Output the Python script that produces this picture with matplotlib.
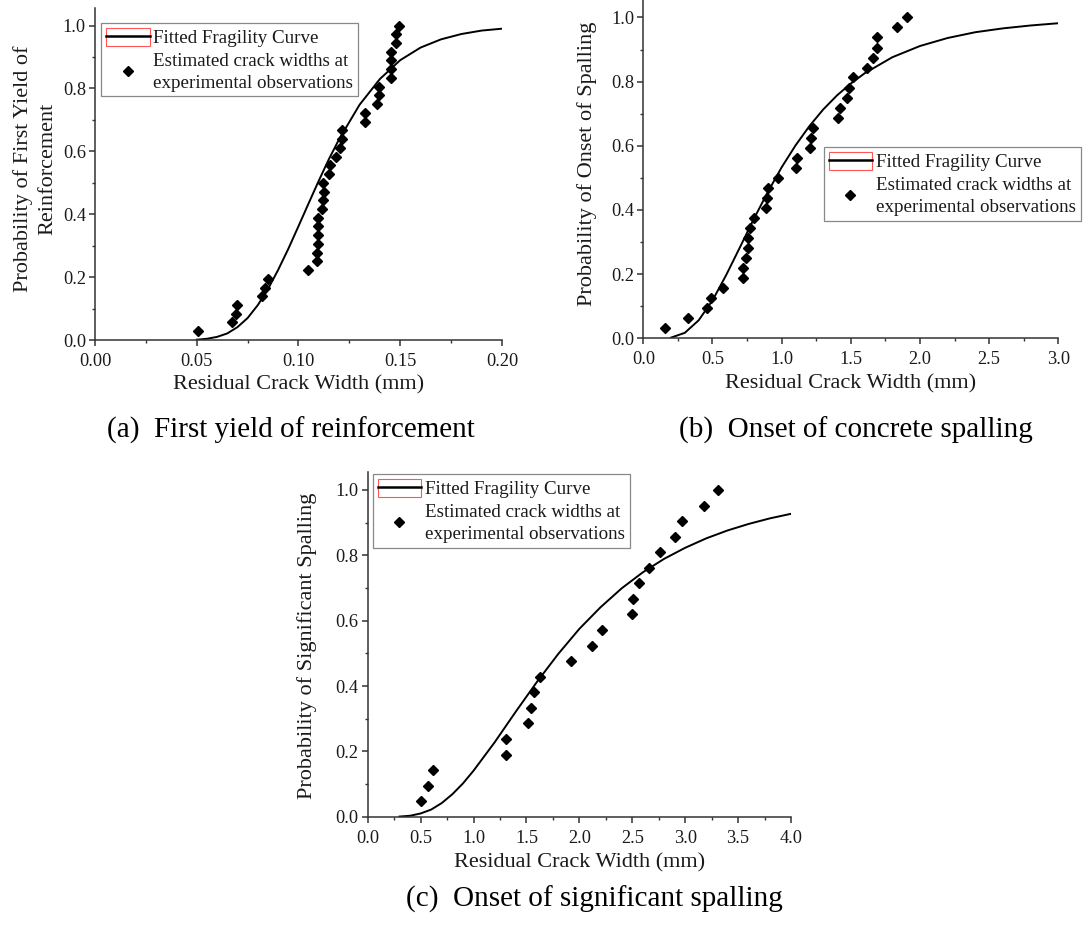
import numpy as np
import matplotlib
matplotlib.use('Agg')
import matplotlib.pyplot as plt
from matplotlib.lines import Line2D
from matplotlib.patches import Rectangle
from matplotlib.legend_handler import HandlerTuple
from matplotlib.ticker import MultipleLocator, FormatStrFormatter

plt.rcParams['font.family'] = ['Liberation Serif', 'DejaVu Serif']

# (a) first yield of reinforcement
obs_x_a = [0.0504, 0.0674, 0.0691, 0.0697, 0.0820, 0.0836, 0.0851, 0.1046, 0.1090,
           0.1090, 0.1095, 0.1095, 0.1095, 0.1098, 0.1116, 0.1118, 0.1124, 0.1121,
           0.1149, 0.1154, 0.1182, 0.1205, 0.1213, 0.1216, 0.1327, 0.1329, 0.1388,
           0.1398, 0.1394, 0.1453, 0.1453, 0.1453, 0.1453, 0.1481, 0.1481, 0.1493]
obs_y_a = [0.028, 0.056, 0.083, 0.111, 0.139, 0.167, 0.194, 0.222, 0.250, 0.278,
           0.306, 0.333, 0.361, 0.389, 0.417, 0.444, 0.472, 0.500, 0.528, 0.556,
           0.583, 0.611, 0.639, 0.667, 0.694, 0.722, 0.750, 0.778, 0.806, 0.833,
           0.861, 0.889, 0.917, 0.944, 0.972, 1.000]
fit_x_a = [0.05, 0.055, 0.06, 0.065, 0.07, 0.075, 0.08, 0.085, 0.09, 0.095, 0.10,
           0.105, 0.11, 0.115, 0.12, 0.13, 0.14, 0.15, 0.16, 0.17, 0.18, 0.19, 0.20]
fit_y_a = [0.001, 0.004, 0.010, 0.021, 0.041, 0.070, 0.111, 0.162, 0.223, 0.290, 0.362,
           0.435, 0.507, 0.576, 0.639, 0.748, 0.830, 0.890, 0.930, 0.956, 0.973, 0.984, 0.990]

# (b) onset of concrete spalling
obs_x_b = [0.157, 0.320, 0.458, 0.489, 0.578, 0.723, 0.723, 0.742, 0.754, 0.759, 0.771,
           0.800, 0.887, 0.892, 0.901, 0.971, 1.101, 1.111, 1.205, 1.214, 1.226, 1.410,
           1.422, 1.475, 1.487, 1.518, 1.614, 1.663, 1.687, 1.687, 1.831, 1.904]
obs_y_b = [0.031, 0.063, 0.094, 0.125, 0.156, 0.188, 0.219, 0.250, 0.281, 0.313, 0.344,
           0.375, 0.406, 0.438, 0.469, 0.500, 0.531, 0.563, 0.594, 0.625, 0.656, 0.688,
           0.719, 0.750, 0.781, 0.813, 0.844, 0.875, 0.906, 0.938, 0.969, 1.000]
fit_x_b = [0.2, 0.3, 0.4, 0.5, 0.6, 0.7, 0.8, 0.9, 1.0, 1.1, 1.2, 1.3, 1.4, 1.5, 1.6,
           1.8, 2.0, 2.2, 2.4, 2.6, 2.8, 3.0]
fit_y_b = [0.002, 0.017, 0.056, 0.118, 0.198, 0.285, 0.373, 0.456, 0.533, 0.601, 0.661,
           0.713, 0.757, 0.794, 0.826, 0.876, 0.911, 0.936, 0.954, 0.966, 0.975, 0.982]

# (c) onset of significant spalling
obs_x_c = [0.501, 0.573, 0.617, 1.307, 1.307, 1.518, 1.540, 1.569, 1.625, 1.918, 2.117,
           2.217, 2.494, 2.504, 2.561, 2.661, 2.759, 2.904, 2.967, 3.175, 3.307]
obs_y_c = [0.048, 0.095, 0.143, 0.190, 0.238, 0.286, 0.333, 0.381, 0.429, 0.476, 0.524,
           0.571, 0.619, 0.667, 0.714, 0.762, 0.810, 0.857, 0.905, 0.952, 1.000]
fit_x_c = [0.3, 0.4, 0.5, 0.6, 0.7, 0.8, 0.9, 1.0, 1.2, 1.4, 1.6, 1.8, 2.0, 2.2, 2.4,
           2.6, 2.8, 3.0, 3.2, 3.4, 3.6, 3.8, 4.0]
fit_y_c = [0.0005, 0.003, 0.010, 0.022, 0.042, 0.069, 0.102, 0.141, 0.228, 0.322, 0.413,
           0.498, 0.575, 0.641, 0.699, 0.748, 0.789, 0.823, 0.852, 0.876, 0.896, 0.913, 0.927]

fig = plt.figure(figsize=(10.88, 9.26), dpi=100)

ax_a = fig.add_axes([0.0873, 0.6328, 0.3741, 0.3583])
ax_b = fig.add_axes([0.5913, 0.6347, 0.3814, 0.3655])
ax_c = fig.add_axes([0.3380, 0.1180, 0.3890, 0.3723])

panels = [
    (ax_a, obs_x_a, obs_y_a, fit_x_a, fit_y_a, 0.20, 0.05, 0.025, '%.2f',
     'Probability of First Yield of\nReinforcement', (-0.093, 0.515), (0.015, 0.955)),
    (ax_b, obs_x_b, obs_y_b, fit_x_b, fit_y_b, 3.0, 0.5, 0.25, '%.1f',
     'Probability of Onset of Spalling', (-0.112, 0.515), (0.435, 0.564)),
    (ax_c, obs_x_c, obs_y_c, fit_x_c, fit_y_c, 4.0, 0.5, 0.25, '%.1f',
     'Probability of Significant Spalling', (-0.120, 0.495), (0.012, 0.993)),
]

txt = '#1a1a1a'
for ax, ox, oy, fx, fy, xmax, maj, mnr, fmt, ylab, ylc, legpos in panels:
    ax.plot(fx, fy, color='black', lw=1.4, zorder=2)
    ax.plot(ox, oy, linestyle='none', marker='D', ms=5.5, color='black', zorder=3)

    ax.set_xlim(0, xmax)
    ax.set_ylim(0, 1.055)
    ax.xaxis.set_major_locator(MultipleLocator(maj))
    ax.xaxis.set_minor_locator(MultipleLocator(mnr))
    ax.xaxis.set_major_formatter(FormatStrFormatter(fmt))
    ax.yaxis.set_major_locator(MultipleLocator(0.2))
    ax.yaxis.set_minor_locator(MultipleLocator(0.1))
    ax.yaxis.set_major_formatter(FormatStrFormatter('%.1f'))

    for s in ['top', 'right']:
        ax.spines[s].set_visible(False)
    for s in ['left', 'bottom']:
        ax.spines[s].set_linewidth(1.1)
        ax.spines[s].set_color('#333333')
    ax.tick_params(which='major', direction='out', length=4.5, width=1.1,
                   color='#333333', labelsize=13.2, labelcolor=txt)
    ax.tick_params(axis='x', which='major', pad=5)
    ax.tick_params(axis='y', which='major', pad=2)
    ax.tick_params(which='minor', direction='out', length=2.5, width=1.0, color='#333333')

    ax.set_xlabel('Residual Crack Width (mm)', fontsize=16, color=txt)
    ax.xaxis.set_label_coords(0.5, -0.105)
    ax.set_ylabel(ylab, fontsize=16, color=txt, linespacing=1.35)
    ax.yaxis.set_label_coords(*ylc)

    # legend: line sample framed by a thin red box, as in the original export
    h_fit = (Rectangle((0, 0), 1, 1, facecolor='none', edgecolor='#ff5555', lw=0.8),
             Line2D([], [], color='black', lw=1.8))
    h_obs = Line2D([], [], linestyle='none', marker='D', ms=5.5, color='black')
    leg = ax.legend([h_fit, h_obs],
                    ['Fitted Fragility Curve',
                     'Estimated crack widths at\nexperimental observations'],
                    handler_map={tuple: HandlerTuple(ndivide=1, pad=0)},
                    loc='upper left', bbox_to_anchor=legpos, borderaxespad=0,
                    prop={'size': 13.7}, handlelength=2.3, handleheight=1.05,
                    handletextpad=0.2, labelspacing=0.3, borderpad=0.25,
                    fancybox=False, framealpha=1, edgecolor='#888888')
    leg.get_frame().set_linewidth(0.9)
    for t in leg.get_texts():
        t.set_color(txt)
        t.set_linespacing(1.36)

fig.text(0.2675, 0.527, '(a)  First yield of reinforcement', fontsize=21,
         ha='center', va='baseline', color='black')
fig.text(0.787, 0.527, '(b)  Onset of concrete spalling', fontsize=21,
         ha='center', va='baseline', color='black')
fig.text(0.5464, 0.0205, '(c)  Onset of significant spalling', fontsize=21,
         ha='center', va='baseline', color='black')

fig.savefig('out.png', dpi=100)
